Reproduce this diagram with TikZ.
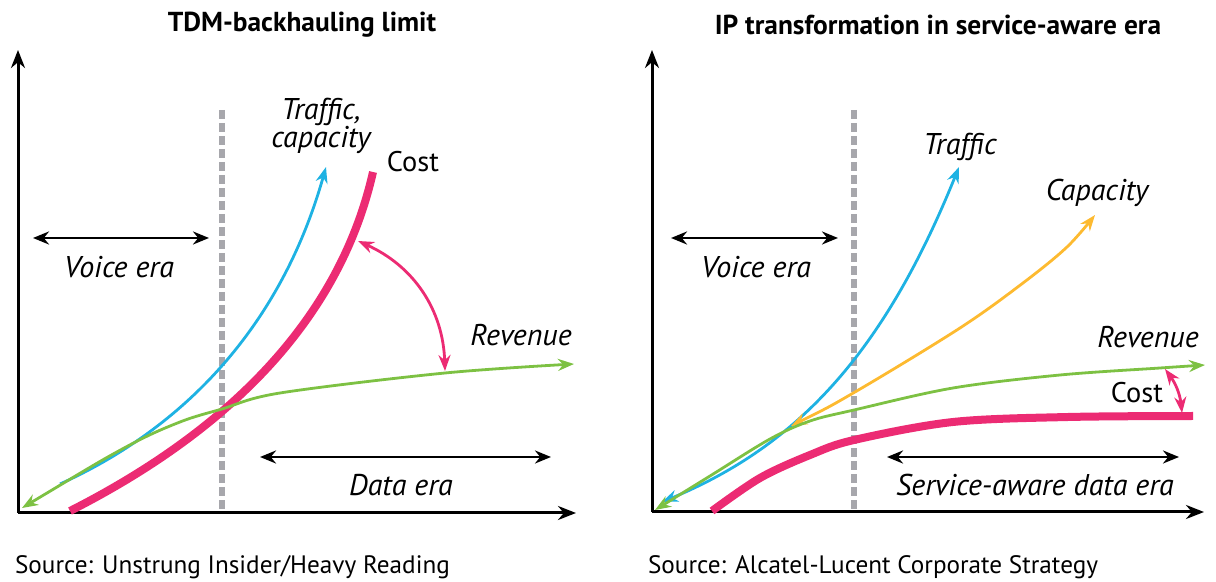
\documentclass[tikz,border=0pt]{standalone}
\usepackage{fontspec}
\setmainfont{PT Sans}
\usetikzlibrary{arrows.meta, positioning, calc}
\definecolor{trafficblue}{HTML}{1EB2E3}
\definecolor{costpink}{HTML}{EC2B73}
\definecolor{revgreen}{HTML}{7DC143}
\definecolor{capyellow}{HTML}{FDBA30}
\definecolor{dividergrey}{HTML}{A7A7AC}
\tikzset{curvetip/.tip={Stealth[length=8pt, width=6pt]}}

\begin{document}
\begin{tikzpicture}[x=0.5pt, y=-0.5pt, font=\fontsize{12.6}{15}\selectfont,
  axis/.style={line width=1.5pt, -{Stealth[length=9pt, width=7pt]}},
  span/.style={line width=1.3pt, {Stealth[length=8pt, width=6.5pt]}-{Stealth[length=8pt, width=6.5pt]}},
  divider/.style={dividergrey, line width=2.6pt, dash pattern=on 4.5pt off 2pt},
  curve/.style={line width=1.4pt, smooth, tension=0.55},
  lab/.style={font=\fontsize{15}{18}\selectfont\itshape},
  costlab/.style={font=\fontsize{14.2}{17}\selectfont},
  title/.style={font=\fontsize{13.7}{16}\selectfont\bfseries}]
  \useasboundingbox (0,0) rectangle (1216,582);

  % left panel: TDM-backhauling limit
  \node[title] (ltitle) at (302,25) {TDM-backhauling limit};
  \coordinate (lo) at (18,513);
  \draw[axis] (lo) -- (18,50);
  \draw[axis] (lo) -- (576,513);
  \draw[divider] (222,110) -- (222,513);
  \coordinate (lvoiceL) at (33,238);
  \coordinate (lvoiceR) at (209,238);
  \draw[span] (lvoiceL) -- (lvoiceR);
  \node[lab] (lvoice) at (119,267) {Voice era};
  \coordinate (ldataL) at (260,457);
  \coordinate (ldataR) at (551,457);
  \draw[span] (ldataL) -- (ldataR);
  \node[lab] (ldata) at (401,485) {Data era};
  \coordinate (ltrafficA) at (60,484);
  \coordinate (ltrafficB) at (326,167);
  \draw[trafficblue, line width=1.4pt, -curvetip]
    (ltrafficA) .. controls (180,430) and (280,330) .. (ltrafficB);
  \coordinate (lcostA) at (70,511);
  \coordinate (lcostB) at (373,172);
  \draw[costpink, line width=4pt]
    (lcostA) .. controls (200,445) and (335,340) .. (lcostB);
  \draw[revgreen, curve, curvetip-curvetip] plot coordinates
    {(22,508) (126,447) (180,422) (222,409) (280,393) (445,373) (574,364)};
  \coordinate (lcostpt) at (358,241);
  \coordinate (lrevpt) at (445,371);
  \draw[costpink, line width=1.4pt, curvetip-curvetip] (lcostpt) to[bend left=32] (lrevpt);
  \node[align=center, lab] (ltraffic) at (321,126) {Traffic,\\[-4pt]capacity};
  \node[costlab] (lcost) at (413,162) {Cost};
  \node[lab] (lrev) at (521,335) {Revenue};
  \node[anchor=west] (lsource) at (8,567) {Source: Unstrung Insider/Heavy Reading};

  % right panel: IP transformation in service-aware era
  \node[title] (rtitle) at (938,25) {IP transformation in service-aware era};
  \coordinate (ro) at (652,512);
  \draw[axis] (ro) -- (652,50);
  \draw[axis] (ro) -- (1204,512);
  \draw[divider] (854,110) -- (854,512);
  \coordinate (rvoiceL) at (671,238);
  \coordinate (rvoiceR) at (838,238);
  \draw[span] (rvoiceL) -- (rvoiceR);
  \node[lab] (rvoice) at (756,267) {Voice era};
  \coordinate (rdataL) at (887,457);
  \coordinate (rdataR) at (1179,457);
  \draw[span] (rdataL) -- (rdataR);
  \node[lab] (rdata) at (1035,485) {Service-aware data era};
  \coordinate (rtrafficA) at (662,502);
  \coordinate (rtrafficB) at (959,167);
  \draw[trafficblue, line width=1.4pt, curvetip-curvetip]
    (rtrafficA) .. controls (800,445) and (885,350) .. (rtrafficB);
  \draw[capyellow, curve, curvetip-curvetip] plot coordinates
    {(791,426) (855,392) (960,328) (1023,283) (1067,247) (1095,215)};
  \draw[revgreen, curve, curvetip-curvetip] plot coordinates
    {(655,510) (710,476) (770,439) (810,421) (854,410) (953,388) (1060,375) (1160,368) (1205,365)};
  \draw[costpink, curve, line width=4pt] plot coordinates
    {(712,511) (760,478) (810,455) (854,440) (953,422) (1068,417) (1193,416)};
  \coordinate (rrevpt) at (1165,369);
  \coordinate (rcostpt) at (1182,413);
  \draw[costpink, line width=1.4pt, curvetip-curvetip] (rrevpt) to[bend left=15] (rcostpt);
  \node[lab] (rtraffic) at (960,147) {Traffic};
  \node[lab] (rcap) at (1097,193) {Capacity};
  \node[lab] (rrev) at (1148,337) {Revenue};
  \node[costlab] (rcost) at (1137,393) {Cost};
  \node[anchor=west] (rsource) at (641,567) {Source: Alcatel-Lucent Corporate Strategy};
\end{tikzpicture}
\end{document}
